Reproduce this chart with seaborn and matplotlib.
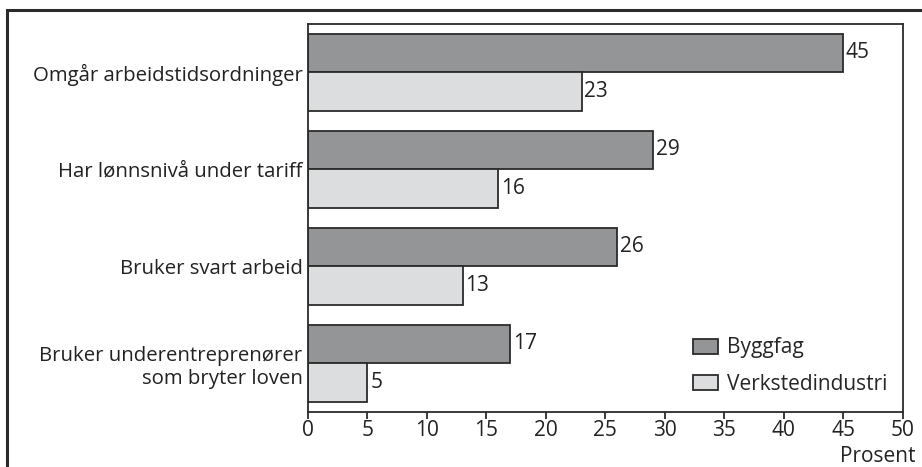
import matplotlib
matplotlib.use("Agg")
import matplotlib.pyplot as plt
import seaborn as sns
import pandas as pd
from matplotlib.patches import Rectangle

sns.set_theme(style="white")
plt.rcParams['font.family'] = ['Open Sans', 'DejaVu Sans']

categories = ["Omgår arbeidstidsordninger", "Har lønnsnivå under tariff",
              "Bruker svart arbeid", "Bruker underentreprenører\nsom bryter loven"]
byggfag = [45, 29, 26, 17]
verksted = [23, 16, 13, 5]
groups = ["Byggfag", "Verkstedindustri"]
colors = ["#939598", "#dcdddf"]
edge = "#2b2b2b"
txt = "#222222"
fontsize = 15

df = pd.DataFrame({
    "Kategori": categories * 2,
    "Prosent": byggfag + verksted,
    "Gruppe": [groups[0]] * 4 + [groups[1]] * 4,
})

fig = plt.figure(figsize=(9.22, 4.67), dpi=100)
ax = fig.add_axes([0.334, 0.118, 0.645, 0.831])

sns.barplot(data=df, y="Kategori", x="Prosent", hue="Gruppe", orient="h",
            palette=colors, edgecolor=edge, linewidth=1.3, width=0.8,
            ax=ax, errorbar=None)

for c in ax.containers:
    ax.bar_label(c, padding=2, fontsize=fontsize, color=txt)

ax.set_xlim(0, 50)
ax.set_ylim(3.5, -0.5)
ax.set_xticks(range(0, 51, 5))
ax.set_ylabel("")
ax.set_xlabel("")
# "Prosent" sits under the right end of the x axis
ax.text(1.0 + 13 / 595, -0.128, "Prosent", transform=ax.transAxes,
        ha="right", va="baseline", fontsize=fontsize, color=txt)
ax.tick_params(axis="x", bottom=True, length=5, width=1.3, color=edge,
               labelsize=fontsize, labelcolor=txt, pad=1)
ax.tick_params(axis="y", left=False, length=0, labelsize=14.7,
               labelcolor=txt, pad=4)
for s in ax.spines.values():
    s.set_color(edge)
    s.set_linewidth(1.3)

leg = ax.legend(loc="upper left", bbox_to_anchor=(0.62, 0.235), frameon=False,
                fontsize=fontsize, handlelength=1.2, handleheight=0.72,
                handletextpad=0.4, labelspacing=0.75, borderpad=0.3)

# outer frame (top and left edges visible)
fig.patches.append(Rectangle((7 / 922, -0.1), 1.2, 1 - 10 / 467 + 0.1,
                             transform=fig.transFigure, fill=False,
                             edgecolor=edge, linewidth=2.2, clip_on=False))

fig.savefig("out.png", dpi=100)
